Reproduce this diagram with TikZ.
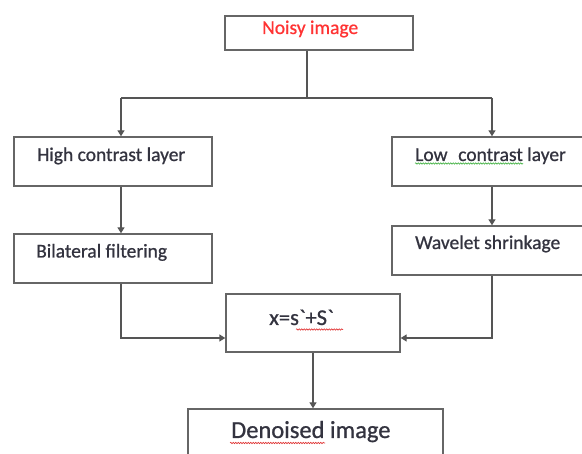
\documentclass[tikz,border=0pt]{standalone}
\usepackage{fontspec}
\setmainfont{Carlito}[FakeBold=0.8]
\usetikzlibrary{arrows.meta,decorations.pathmorphing}
\definecolor{txt}{HTML}{33333F}
\definecolor{ln}{HTML}{555555}
\definecolor{bx}{HTML}{666666}
\definecolor{rd}{HTML}{FF3333}
\definecolor{sq}{HTML}{E03030}
\definecolor{gq}{HTML}{40B040}
\tikzset{
  box/.style={draw=bx, line width=1.4pt, rectangle, inner sep=0pt},
  lbl/.style={anchor=base west, inner sep=0pt, text=txt, font=\fontsize{19.5}{23}\selectfont},
  conn/.style={draw=ln, line width=1.4pt},
  arr/.style={conn, -{Triangle[length=6pt,width=7pt]}},
  squig/.style={line width=0.6pt, decorate, decoration={snake, amplitude=0.7pt, segment length=2.5pt}}
}
\begin{document}
\begin{tikzpicture}[x=1pt,y=-1pt]
\useasboundingbox (0,0) rectangle (582,454);
\clip (0,0) rectangle (582,454);
\fill[white] (0,0) rectangle (582,454);
% boxes
\node[box, minimum width=188pt, minimum height=34pt] (noisy) at (319,33) {};
\node[box, minimum width=198pt, minimum height=49pt] (high) at (113,161.5) {};
\node[box, minimum width=198pt, minimum height=49pt] (bil) at (113,258.5) {};
\node[box, minimum width=210pt, minimum height=49pt] (low) at (497,161.5) {};
\node[box, minimum width=210pt, minimum height=49pt] (wav) at (497,250.5) {};
\node[box, minimum width=174pt, minimum height=58pt] (sum) at (313,323) {};
\node[box, minimum width=255pt, minimum height=62pt] (den) at (315.5,440) {};
% texts
\node[lbl, text=rd] (tnoisy) at (262,34) {Noisy image};
\node[lbl] (thigh) at (37,161) {High contrast layer};
\node[lbl] (tbil) at (36,257.5) {Bilateral filtering};
\node[lbl] (tlow) at (415,161) {Low\hspace{0.55em}contrast layer};
\node[lbl] (twav) at (415,249) {Wavelet shrinkage};
\node[lbl, font=\fontsize{22.5}{26}\selectfont] (tsum) at (269,325) {x=s\textasciigrave+S\textasciigrave};
\node[lbl, font=\fontsize{24.5}{28}\selectfont] (tden) at (231,438) {Denoised image};
% squiggles
\draw[squig, draw=sq] (296,329.5) -- (343,329.5);
\draw[squig, draw=sq] (230,443) -- (325,443);
\draw[squig, draw=gq] (415,163.5) -- (523,163.5);
% connectors
\coordinate (nj) at (307,98);
\coordinate (bl) at (121,98);
\coordinate (br) at (492,98);
\coordinate (my) at (0,338);
\draw[conn] (noisy.south -| nj) -- (nj);
\draw[conn] (bl) -- (br);
\draw[arr] (bl) -- (bl |- high.north);
\draw[arr] (br) -- (br |- low.north);
\draw[arr] (high.south -| bl) -- (bil.north -| bl);
\draw[arr] (low.south -| br) -- (wav.north -| br);
\draw[arr] (bil.south -| bl) |- (sum.west |- my);
\draw[arr] (wav.south -| br) |- (sum.east |- my);
\draw[arr] (sum.south) -- (den.north -| sum.south);
\end{tikzpicture}
\end{document}
